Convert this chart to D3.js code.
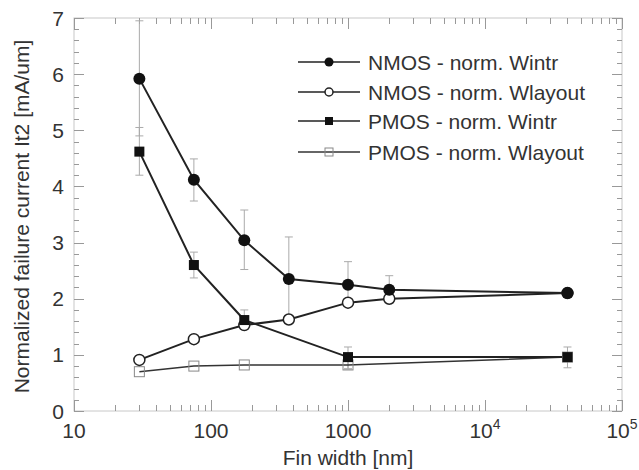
<!DOCTYPE html>
<html>
<head>
<meta charset="utf-8">
<script src="https://cdn.jsdelivr.net/npm/d3@7"></script>
<style>
  html, body { margin: 0; padding: 0; background: #fff; }
  svg { display: block; font-family: "Liberation Sans", Arial, Helvetica, sans-serif; }
</style>
</head>
<body>
<svg id="chart" width="639" height="470"></svg>
<script>
// ---- data ----
const nmosX = [30, 75, 175, 370, 1000, 2000, 40000];
const nmosWintr = [5.92, 4.12, 3.04, 2.35, 2.25, 2.16, 2.1];
const nmosWintrLo = [4.9, 3.74, 2.52, 1.65, 1.9, 2.0, null];
const nmosWintrHi = [6.95, 4.49, 3.58, 3.1, 2.66, 2.41, null];
const nmosWlayout = [0.91, 1.28, 1.53, 1.63, 1.93, 2.0, 2.1];

const pmosX = [30, 75, 175, 1000, 40000];
const pmosWintr = [4.62, 2.6, 1.62, 0.96, 0.96];
const pmosWintrLo = [4.2, 2.37, 1.5, 0.75, 0.77];
const pmosWintrHi = [5.05, 2.83, 1.8, 1.14, 1.14];
const pmosWlayout = [0.7, 0.8, 0.82, 0.82, 0.96];
const pmosWlayoutLo = [null, null, null, 0.75, null];
const pmosWlayoutHi = [null, null, null, 0.9, null];

const xTicks = [10, 100, 1000, 10000, 100000];
const xTickLabels = ["10", "100", "1000", "10|4", "10|5"];
const yTicks = [0, 1, 2, 3, 4, 5, 6, 7];
const legendLabels = ["NMOS - norm. Wintr", "NMOS - norm. Wlayout", "PMOS - norm. Wintr", "PMOS - norm. Wlayout"];
const xTitle = "Fin width [nm]";
const yTitle = "Normalized failure current It2 [mA/um]";

// ---- layout ----
const L = 74, R = 622, T = 18, B = 411;
const svg = d3.select("#chart");
const x = d3.scaleLog().domain([10, 100000]).range([L, R]);
const y = d3.scaleLinear().domain([0, 7]).range([B, T]);
const textColor = "#333";
const frameColor = "#c8c8c8";
const tickColor = "#999";

// frame
svg.append("rect").attr("x", L).attr("y", T).attr("width", R - L).attr("height", B - T)
  .attr("fill", "none").attr("stroke", frameColor).attr("stroke-width", 1);

// minor/major ticks
const minorX = [];
for (let d = 10; d < 100000; d *= 10) for (let k = 2; k <= 9; k++) minorX.push(d * k);
const minorY = d3.range(0, 7.001, 0.2).filter(v => Math.abs(v - Math.round(v)) > 1e-6);

const tg = svg.append("g").attr("stroke", tickColor).attr("stroke-width", 1);
minorX.forEach(v => {
  const px = Math.round(x(v)) + 0.5;
  tg.append("line").attr("x1", px).attr("x2", px).attr("y1", B).attr("y2", B - 6);
  tg.append("line").attr("x1", px).attr("x2", px).attr("y1", T).attr("y2", T + 6);
});
xTicks.forEach(v => {
  const px = Math.round(x(v)) + 0.5;
  tg.append("line").attr("x1", px).attr("x2", px).attr("y1", B).attr("y2", B - 11);
  tg.append("line").attr("x1", px).attr("x2", px).attr("y1", T).attr("y2", T + 11);
});
minorY.forEach(v => {
  const py = Math.round(y(v)) + 0.5;
  tg.append("line").attr("x1", L).attr("x2", L + 5).attr("y1", py).attr("y2", py);
  tg.append("line").attr("x1", R).attr("x2", R - 5).attr("y1", py).attr("y2", py);
});
yTicks.forEach(v => {
  const py = Math.round(y(v)) + 0.5;
  tg.append("line").attr("x1", L).attr("x2", L + 10).attr("y1", py).attr("y2", py);
  tg.append("line").attr("x1", R).attr("x2", R - 10).attr("y1", py).attr("y2", py);
});

// tick labels
const fs = 21;
xTicks.forEach((v, i) => {
  const parts = xTickLabels[i].split("|");
  const t = svg.append("text").attr("x", x(v)).attr("y", 438)
    .attr("text-anchor", "middle").attr("font-size", fs).attr("fill", textColor);
  t.append("tspan").text(parts[0]);
  if (parts[1]) t.append("tspan").attr("dy", -9).attr("font-size", 14).text(parts[1]);
});
yTicks.forEach(v => {
  svg.append("text").attr("x", 64).attr("y", y(v) + 7.5)
    .attr("text-anchor", "end").attr("font-size", fs).attr("fill", textColor).text(v);
});

// axis titles
svg.append("text").attr("x", (L + R) / 2).attr("y", 465).attr("text-anchor", "middle")
  .attr("font-size", fs).attr("fill", textColor).text(xTitle);
svg.append("text").attr("transform", `translate(29,${(T + B) / 2 + 2}) rotate(-90)`)
  .attr("text-anchor", "middle").attr("font-size", fs).attr("fill", textColor).text(yTitle);

// error bars
const eg = svg.append("g").attr("stroke", "#aaa").attr("stroke-width", 1);
function errBars(xs, lo, hi) {
  xs.forEach((xv, i) => {
    if (lo[i] == null) return;
    const px = x(xv);
    eg.append("line").attr("x1", px).attr("x2", px).attr("y1", y(lo[i])).attr("y2", y(hi[i]));
    [lo[i], hi[i]].forEach(v => eg.append("line").attr("x1", px - 4).attr("x2", px + 4).attr("y1", y(v)).attr("y2", y(v)));
  });
}
errBars(nmosX, nmosWintrLo, nmosWintrHi);
errBars(pmosX, pmosWintrLo, pmosWintrHi);
errBars(pmosX, pmosWlayoutLo, pmosWlayoutHi);

// lines
const line = d3.line().x(d => x(d[0])).y(d => y(d[1]));
const zip = (a, b) => a.map((v, i) => [v, b[i]]);
svg.append("path").datum(zip(pmosX, pmosWlayout)).attr("d", line)
  .attr("fill", "none").attr("stroke", "#333").attr("stroke-width", 1.5);
svg.append("path").datum(zip(nmosX, nmosWlayout)).attr("d", line)
  .attr("fill", "none").attr("stroke", "#222").attr("stroke-width", 2);
svg.append("path").datum(zip(pmosX, pmosWintr)).attr("d", line)
  .attr("fill", "none").attr("stroke", "#222").attr("stroke-width", 2);
svg.append("path").datum(zip(nmosX, nmosWintr)).attr("d", line)
  .attr("fill", "none").attr("stroke", "#222").attr("stroke-width", 2);

// markers
function markers(g, data, type, size) {
  data.forEach(d => drawMarker(g, x(d[0]), y(d[1]), type, size));
}
function drawMarker(g, cx, cy, type, size) {
  if (type === "fc") g.append("circle").attr("cx", cx).attr("cy", cy).attr("r", size).attr("fill", "#111");
  if (type === "oc") g.append("circle").attr("cx", cx).attr("cy", cy).attr("r", size)
      .attr("fill", "#fff").attr("stroke", "#222").attr("stroke-width", 1.5);
  if (type === "fs") g.append("rect").attr("x", cx - size).attr("y", cy - size)
      .attr("width", 2 * size).attr("height", 2 * size).attr("fill", "#111");
  if (type === "os") g.append("rect").attr("x", cx - size).attr("y", cy - size)
      .attr("width", 2 * size).attr("height", 2 * size).attr("fill", "none")
      .attr("stroke", "#888").attr("stroke-width", 1);
}
const mg = svg.append("g");
markers(mg, zip(pmosX, pmosWlayout), "os", 5);
markers(mg, zip(nmosX, nmosWlayout), "oc", 5.5);
markers(mg, zip(pmosX, pmosWintr), "fs", 5);
markers(mg, zip(nmosX, nmosWintr), "fc", 6);

// legend
const legTypes = ["fc", "oc", "fs", "os"];
const legY = [62, 92, 121, 152];
const lg = svg.append("g");
legendLabels.forEach((lab, i) => {
  lg.append("line").attr("x1", 298).attr("x2", 360).attr("y1", legY[i]).attr("y2", legY[i])
    .attr("stroke", i === 3 ? "#333" : "#222").attr("stroke-width", 1.5);
  drawMarker(lg, 329, legY[i], legTypes[i], legTypes[i] === "fc" ? 4.5 : 4);
  lg.append("text").attr("x", 368).attr("y", legY[i] + 7.5).attr("font-size", fs)
    .attr("fill", textColor).text(lab);
});
</script>
</body>
</html>
